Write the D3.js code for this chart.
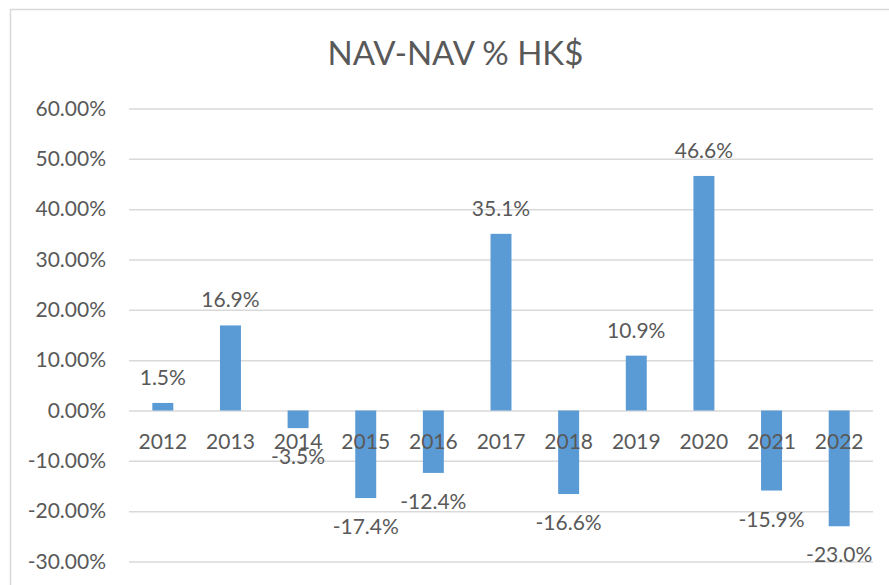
<!DOCTYPE html>
<html><head><meta charset="utf-8">
<script src="https://cdn.jsdelivr.net/npm/d3@7"></script>
<style>body{margin:0;background:#fff}svg{display:block}</style>
</head><body>
<script>
const years = ["2012","2013","2014","2015","2016","2017","2018","2019","2020","2021","2022"];
const values = [1.5, 16.9, -3.5, -17.4, -12.4, 35.1, -16.6, 10.9, 46.6, -15.9, -23.0];
const yTicks = [-30, -20, -10, 0, 10, 20, 30, 40, 50, 60];
const title = "NAV-NAV % HK$";

const W = 889, H = 585;
const font = "Lato, 'Open Sans', sans-serif";
const txt = "#595959";
const svg = d3.select("body").append("svg").attr("width", W).attr("height", H);

svg.append("rect").attr("x", 10.5).attr("y", 9.5).attr("width", 900).attr("height", 700)
  .attr("fill", "none").attr("stroke", "#d9d9d9").attr("stroke-width", 1.5);

const x = d3.scaleBand().domain(years).range([129, 873]).paddingInner(0.69).paddingOuter(0.345);
const y = d3.scaleLinear().domain([-30, 60]).range([561.5, 108.5]);
const fmt = (s, v) => d3.format(s)(v).replace("\u2212", "-") + "%";

svg.append("text").attr("x", 455.5).attr("y", 65).attr("text-anchor", "middle")
  .attr("font-family", font).attr("font-size", 33).attr("fill", txt).text(title);

const yAxis = svg.append("g").attr("transform", "translate(129,0)")
  .call(d3.axisLeft(y).tickValues(yTicks).tickSize(-744).tickPadding(23)
    .tickFormat(d => fmt(".2f", d)));
yAxis.select(".domain").remove();
yAxis.selectAll("line").attr("stroke", "#d9d9d9").attr("stroke-width", 1.5);
yAxis.selectAll("text").attr("font-family", font).attr("font-size", 21).attr("fill", txt);

svg.append("g").selectAll("rect").data(values).join("rect")
  .attr("x", (d, i) => x(years[i]))
  .attr("width", x.bandwidth())
  .attr("y", d => y(Math.max(0, d)))
  .attr("height", d => Math.abs(y(d) - y(0)))
  .attr("fill", "#5b9bd5");

const xAxis = svg.append("g").attr("transform", `translate(0,${y(0)})`)
  .call(d3.axisBottom(x).tickSize(0).tickPadding(24));
xAxis.select(".domain").remove();
xAxis.selectAll("text").attr("font-family", font).attr("font-size", 21).attr("fill", txt);

svg.append("g").selectAll("text").data(values).join("text")
  .attr("x", (d, i) => x(years[i]) + x.bandwidth() / 2)
  .attr("y", d => d >= 0 ? y(d) - 18 : y(d) + 36)
  .attr("text-anchor", "middle")
  .attr("font-family", font).attr("font-size", 21).attr("fill", txt)
  .text(d => fmt(".1f", d));
</script>
</body></html>
